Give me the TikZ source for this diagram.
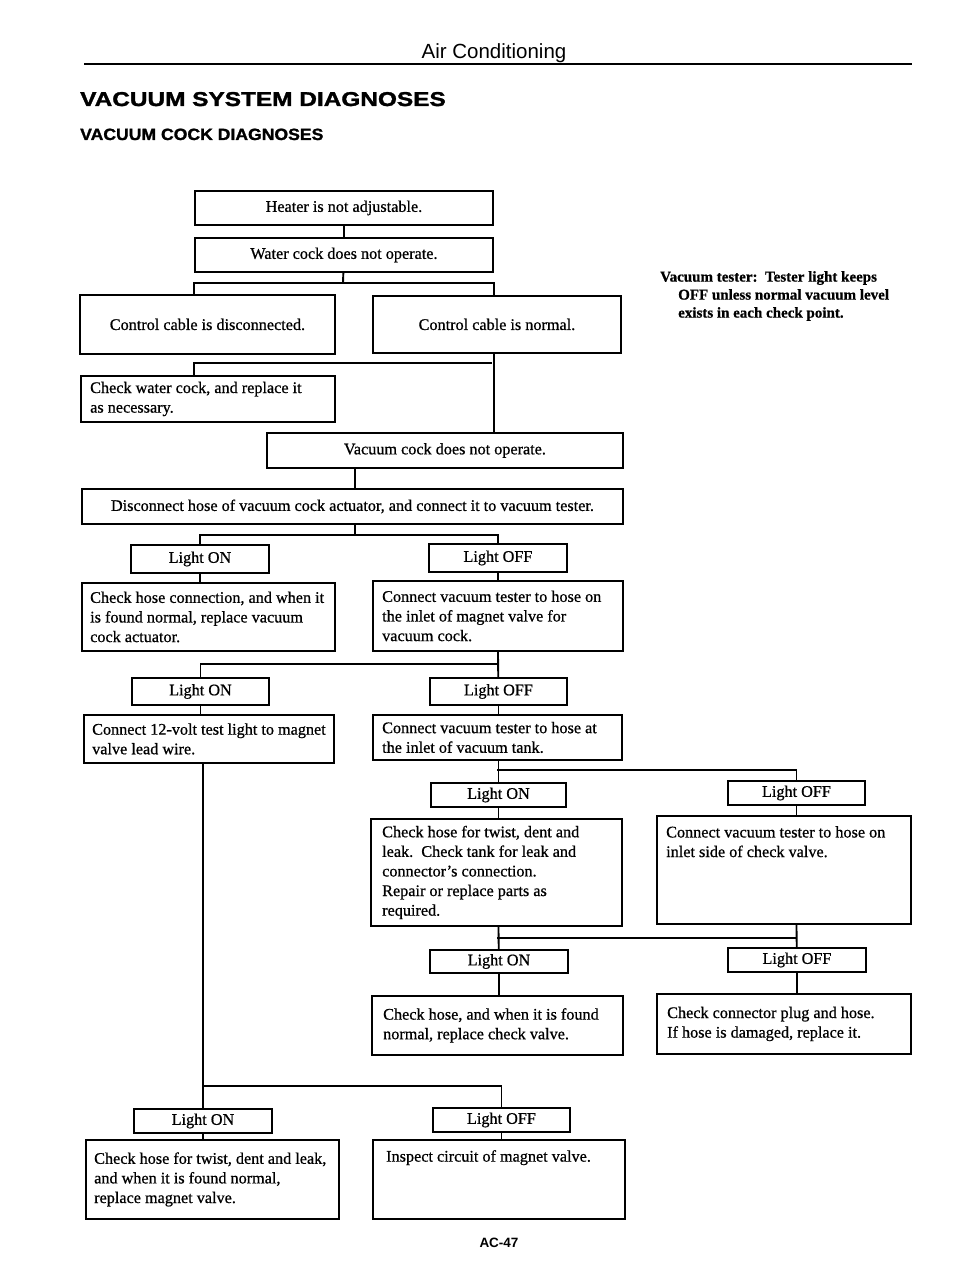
\documentclass[tikz,border=0pt]{standalone}
\usepackage{fontspec}
\setmainfont{Liberation Serif}[FakeBold=0.7]
\newfontfamily\headsans{Liberation Sans}
\newfontfamily\headwide[FakeStretch=1.22,FakeBold=1.6]{Liberation Sans}
\newfontfamily\headmid[FakeStretch=1.08,FakeBold=1.4]{Liberation Sans}
\usepackage{tikz}
\usetikzlibrary{calc,positioning}

\begin{document}
\begin{tikzpicture}[x=1pt,y=-1pt,
  box/.style={draw,line width=1.9pt,inner sep=0pt,anchor=north west,
    font=\fontsize{16.2}{19.6}\selectfont},
  txt/.style={inner sep=0pt,align=left,font=\fontsize{16.2}{19.6}\selectfont},
  note/.style={inner sep=0pt,align=left,font=\bfseries\fontsize{15}{18}\selectfont},
  link/.style={line width=1.9pt}]
  \path[fill=white,use as bounding box] (0,0) rectangle (960,1268);

  % page heading
  \node[anchor=base,inner sep=0pt,font=\headsans\fontsize{20.5}{24}\selectfont] (runhead) at (494,59) {Air Conditioning};
  \draw[line width=2.7pt] (84,64) -- (912,64);
  \node[anchor=base west,inner sep=0pt,font=\headwide\bfseries\fontsize{20}{24}\selectfont] (title) at (80,106) {VACUUM SYSTEM DIAGNOSES};
  \node[anchor=base west,inner sep=0pt,font=\headmid\bfseries\fontsize{16.3}{20}\selectfont] (subtitle) at (80,140) {VACUUM COCK DIAGNOSES};

  % boxes
  \node[box,minimum width=298,minimum height=34] (heat) at (194,190) {Heater is not adjustable.};
  \node[box,minimum width=298,minimum height=34] (water) at (194,237) {Water cock does not operate.};
  \node[box,minimum width=255,minimum height=59] (cdis) at (79,294) {Control cable is disconnected.};
  \node[box,minimum width=248,minimum height=57] (cnor) at (372,295) {Control cable is normal.};
  \node[box,minimum width=254,minimum height=46] (chkw) at (80,375) {};
  \node[box,minimum width=356,minimum height=35] (vcock) at (266,432) {Vacuum cock does not operate.};
  \node[box,minimum width=541,minimum height=35] (disc) at (81,488) {Disconnect hose of vacuum cock actuator, and connect it to vacuum tester.};
  \node[box,minimum width=138,minimum height=28] (on1) at (130,544) {Light ON};
  \node[box,minimum width=138,minimum height=28] (off1) at (428,543) {Light OFF};
  \node[box,minimum width=253,minimum height=68] (chkh) at (81,582) {};
  \node[box,minimum width=250,minimum height=70] (cvt1) at (372,580) {};
  \node[box,minimum width=137,minimum height=27] (on2) at (131,677) {Light ON};
  \node[box,minimum width=137,minimum height=27] (off2) at (429,677) {Light OFF};
  \node[box,minimum width=250,minimum height=48] (c12) at (83,714) {};
  \node[box,minimum width=249,minimum height=45] (ctank) at (372,714) {};
  \node[box,minimum width=135,minimum height=24] (on3) at (430,782) {Light ON};
  \node[box,minimum width=137,minimum height=24] (off3) at (727,780) {Light OFF};
  \node[box,minimum width=251,minimum height=107] (twist) at (370,818) {};
  \node[box,minimum width=254,minimum height=108] (cvt2) at (656,815) {};
  \node[box,minimum width=138,minimum height=23] (on4) at (429,949) {Light ON};
  \node[box,minimum width=138,minimum height=24] (off4) at (727,947) {Light OFF};
  \node[box,minimum width=251,minimum height=59] (hosev) at (371,995) {};
  \node[box,minimum width=254,minimum height=60] (plug) at (656,993) {};
  \node[box,minimum width=138,minimum height=24] (on5) at (133,1108) {Light ON};
  \node[box,minimum width=137,minimum height=24] (off5) at (432,1107) {Light OFF};
  \node[box,minimum width=253,minimum height=79] (magv) at (85,1139) {};
  \node[box,minimum width=252,minimum height=79] (insp) at (372,1139) {};

  % texts in the larger boxes
  \node[txt,anchor=west] (chkwT) at ([xshift=10pt]chkw.west) {Check water cock, and replace it\\as necessary.};
  \node[txt,anchor=west] (chkhT) at ([xshift=9pt]chkh.west) {Check hose connection, and when it\\is found normal, replace vacuum\\cock actuator.};
  \node[txt,anchor=west] (cvt1T) at ([xshift=10pt]cvt1.west) {Connect vacuum tester to hose on\\the inlet of magnet valve for\\vacuum cock.};
  \node[txt,anchor=west] (c12T) at ([xshift=9pt]c12.west) {Connect 12-volt test light to magnet\\valve lead wire.};
  \node[txt,anchor=west] (ctankT) at ([xshift=10pt]ctank.west) {Connect vacuum tester to hose at\\the inlet of vacuum tank.};
  \node[txt,anchor=west] (twistT) at ([xshift=12pt]twist.west) {Check hose for twist, dent and\\leak.\ \ Check tank for leak and\\connector’s connection.\\Repair or replace parts as\\required.};
  \node[txt,anchor=north west] (cvt2T) at ([xshift=10pt,yshift=-11pt]cvt2.north west) {Connect vacuum tester to hose on\\inlet side of check valve.};
  \node[txt,anchor=west] (hosevT) at ([xshift=12pt]hosev.west) {Check hose, and when it is found\\normal, replace check valve.};
  \node[txt,anchor=west] (plugT) at ([xshift=11pt]plug.west) {Check connector plug and hose.\\If hose is damaged, replace it.};
  \node[txt,anchor=west] (magvT) at ([xshift=9pt]magv.west) {Check hose for twist, dent and leak,\\and when it is found normal,\\replace magnet valve.};
  \node[txt,anchor=north west] (inspT) at ([xshift=14pt,yshift=-11pt]insp.north west) {Inspect circuit of magnet valve.};

  \node[note,anchor=north west] (tester) at (660,271) {Vacuum tester:\ \ Tester light keeps\\\hspace*{18pt}OFF unless normal vacuum level\\\hspace*{18pt}exists in each check point.};

  % connectors
  \coordinate (j1) at (343,283);
  \coordinate (j2) at (492,363);
  \coordinate (j3) at (355,535);
  \coordinate (j4) at (497,664);
  \coordinate (j5) at (497,770);
  \coordinate (j6) at (497,938);
  \coordinate (j7) at (202,1086);
  \draw[link] (heat) -- (water);
  \draw[link] (water) -- (j1);
  \draw[link] (cdis.north -| water.west) |- (j1) -| (cnor.north -| water.east);
  \draw[link] (cnor.south -| water.east) -- (vcock.north -| water.east);
  \draw[link] (j2) -| (chkw.north -| water.west);
  \draw[link] (vcock.south -| j3) -- (disc.north -| j3);
  \draw[link] (disc.south -| j3) -- (j3);
  \draw[link] (on1) |- (j3) -| (off1);
  \draw[link] (on1) -- (chkh.north -| on1);
  \draw[link] (off1) -- (cvt1.north -| off1);
  \draw[link] (cvt1.south -| off1) -- (off2);
  \draw[link] (j4) -| (on2);
  \draw[link] (on2) -- (c12.north -| on2);
  \draw[link] (off2) -- (ctank.north -| off2);
  \draw[link] (ctank.south -| off2) -- (on3);
  \draw[link] (j5) -| (off3);
  \draw[link] (on3) -- (twist.north -| on3);
  \draw[link] (off3) -- (cvt2.north -| off3);
  \draw[link] (twist.south -| on3) -- (on4);
  \draw[link] (cvt2.south -| off3) -- (off4);
  \draw[link] (j6) -- (j6 -| off3);
  \draw[link] (on4) -- (hosev.north -| on4);
  \draw[link] (off4) -- (plug.north -| off4);
  \draw[link] (c12.south -| on5) -- (on5);
  \draw[link] (j7) -| (off5);
  \draw[link] (on5) -- (magv.north -| on5);
  \draw[link] (off5) -- (insp.north -| off5);

  \node[anchor=base,inner sep=0pt,font=\headsans\bfseries\fontsize{13.5}{16}\selectfont] (pageno) at (499,1247) {AC-47};
\end{tikzpicture}
\end{document}
